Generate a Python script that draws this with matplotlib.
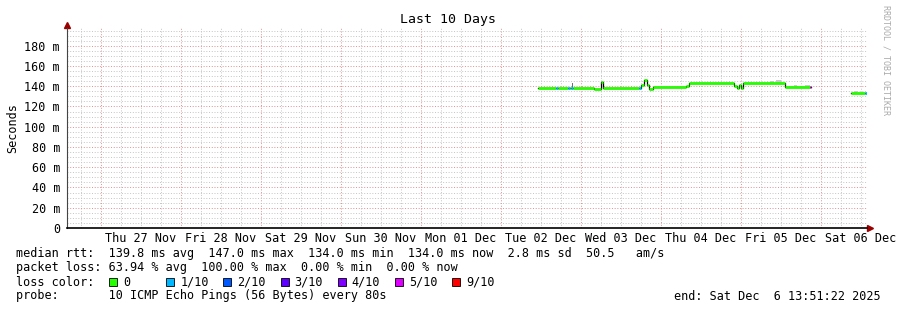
import numpy as np
import matplotlib
matplotlib.use("Agg")
import matplotlib.pyplot as plt
from matplotlib.patches import Rectangle

# time axis: days since Thu 27 Nov 00:00, window ends Sat 6 Dec 13:51:22
t_end = 9 + (13 + 51 / 60 + 22 / 3600) / 24
t_start = t_end - 10

day_labels = ["Thu 27 Nov", "Fri 28 Nov", "Sat 29 Nov", "Sun 30 Nov", "Mon 01 Dec",
              "Tue 02 Dec", "Wed 03 Dec", "Thu 04 Dec", "Fri 05 Dec", "Sat 06 Dec"]

# median rtt (ms) as steps: start time, value, loss index
med_t = [5.4625, 5.6875, 5.7125, 5.84, 5.865, 5.88, 5.9, 6.1625, 6.25, 6.275,
         6.725, 6.75, 6.7875, 6.825, 6.85, 6.9, 7.3125, 7.35, 7.9125, 7.95,
         7.975, 8.0, 8.025, 8.55, 8.86, 8.875, 9.375, 9.55]
med_v = [138.4, 138.4, 138.4, 138.4, 138.4, 138.4, 138.4, 137.0, 144.6, 138.2,
         137.8, 141.3, 146.5, 141.0, 137.7, 139.4, 140.6, 142.9, 140.0, 138.5,
         141.5, 138.3, 142.9, 139.0, 139.0, np.nan, 133.5, 133.5]
med_loss = [0, 1, 0, 1, 0, 1, 0, 0, 0, 0,
            1, 0, 0, 0, 0, 0, 0, 0, 0, 0,
            0, 0, 0, 0, 5, 0, 0, 1]

# smoke (spread of pings): start, end, low, high, grey
smoke_t0 = [5.89, 8.36, 8.44, 8.66, 8.80, 9.42]
smoke_t1 = [5.905, 8.42, 8.50, 8.70, 8.86, 9.45]
smoke_lo = [138.4, 142.9, 142.9, 139.0, 139.0, 133.5]
smoke_hi = [143.6, 145.3, 145.8, 141.5, 141.0, 135.0]
smoke_c = ["#707070", "#c8c8c8", "#c8c8c8", "#cccccc", "#cccccc", "#cccccc"]

loss_names = ["0", "1/10", "2/10", "3/10", "4/10", "5/10", "9/10"]
loss_colors = ["#26ff00", "#00b8ff", "#0059ff", "#5e00ff", "#7e00ff", "#dd00ff", "#ff0000"]
loss_color_by_idx = {0: "#26ff00", 1: "#00b8ff", 2: "#0059ff", 3: "#5e00ff",
                     4: "#7e00ff", 5: "#dd00ff", 9: "#ff0000"}

mono = "DejaVu Sans Mono"
fs = 8.5

W, H = 897, 310
fig = plt.figure(figsize=(W / 100, H / 100), dpi=100)
ax = fig.add_axes([67 / W, 82 / H, 800 / W, 200 / H])
ymax = 197.5
ax.set_xlim(t_start, t_end)
ax.set_ylim(0, ymax)

# grid
for h in np.arange(np.ceil(t_start * 4) / 4, t_end, 0.25):
    if abs(h - round(h)) < 1e-6:
        ax.axvline(h, color="#e09090", lw=0.7, ls=(0, (1, 1.8)), zorder=0)
    else:
        ax.axvline(h, color="#c4c4c4", lw=0.7, ls=(0, (1, 1.8)), zorder=0)
for y in range(5, 200, 5):
    if y % 20 == 0:
        ax.axhline(y, color="#e09090", lw=0.7, ls=(0, (1, 1.8)), zorder=0)
    else:
        ax.axhline(y, color="#c4c4c4", lw=0.7, ls=(0, (1, 1.8)), zorder=0)

# smoke
for a, b, lo, hi, c in zip(smoke_t0, smoke_t1, smoke_lo, smoke_hi, smoke_c):
    ax.add_patch(Rectangle((a, lo), b - a, hi - lo, color=c, lw=0, zorder=1))

# median line
ends = med_t[1:] + [t_end]
ax.step(med_t + [t_end], med_v + [med_v[-1]], where="post", color="black", lw=0.9, zorder=2)
for a, b, v, l in zip(med_t, ends, med_v, med_loss):
    if not np.isnan(v):
        ax.hlines(v, a, b, color=loss_color_by_idx[l], lw=2.0, zorder=3)

# axes styling
for s in ["top", "right"]:
    ax.spines[s].set_visible(False)
ax.spines["left"].set_color("#444444")
ax.spines["bottom"].set_color("black")
ax.spines["bottom"].set_linewidth(1.2)
ax.plot([t_start], [ymax + 3], marker="^", color="#990000", ms=4, clip_on=False)
ax.plot([t_end + 0.04], [0], marker=">", color="#990000", ms=4, clip_on=False)

yt = list(range(0, 200, 20))
ax.set_yticks(yt)
ax.set_yticklabels(["0"] + [f"{v} m" for v in yt[1:]], fontfamily=mono, fontsize=fs)
ax.set_xticks([i + 0.5 for i in range(10)])
ax.set_xticklabels(day_labels, fontfamily=mono, fontsize=fs)
ax.tick_params(axis="both", length=0, pad=5)
ax.tick_params(axis="x", pad=3)
ax.set_ylabel("Seconds", fontfamily=mono, fontsize=fs, labelpad=4)

fig.text(448 / W, 1 - 20 / H, "Last 10 Days", ha="center", va="center",
         fontfamily=mono, fontsize=9.5)
fig.text(886 / W, 1 - 60 / H, "RRDTOOL / TOBI OETIKER", rotation=270, ha="center",
         va="center", fontfamily=mono, fontsize=6, color="#aaaaaa")

# legend / stats lines
lines = [
    "median rtt:  139.8 ms avg  147.0 ms max  134.0 ms min  134.0 ms now  2.8 ms sd  50.5   am/s",
    "packet loss: 63.94 % avg  100.00 % max  0.00 % min  0.00 % now",
    "loss color:",
    "probe:       10 ICMP Echo Pings (56 Bytes) every 80s",
]
for i, s in enumerate(lines):
    fig.text(16 / W, 1 - (254 + 14 * i) / H, s, ha="left", va="center",
             fontfamily=mono, fontsize=fs)

for i, (name, c) in enumerate(zip(loss_names, loss_colors)):
    x0 = 109 + 57.2 * i
    fig.patches.append(Rectangle((x0 / W, 1 - 286 / H), 8 / W, 8 / H, facecolor=c,
                                 edgecolor="black", lw=0.6, transform=fig.transFigure))
    fig.text((x0 + 14) / W, 1 - 282 / H, name, ha="left", va="center",
             fontfamily=mono, fontsize=fs)

fig.text(881 / W, 1 - 296 / H, "end: Sat Dec  6 13:51:22 2025", ha="right", va="center",
         fontfamily=mono, fontsize=fs)

fig.savefig("out.png", dpi=100, facecolor="white")
